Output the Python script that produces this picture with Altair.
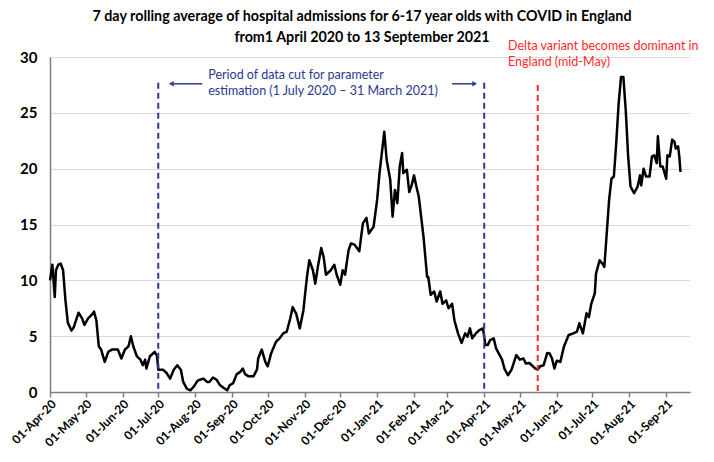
import altair as alt
import pandas as pd

# Days since 1 April 2020 and 7-day rolling average admissions
days = [0, 2, 4, 5, 7, 9, 11, 13, 15, 18, 20, 24, 27, 29, 32, 35, 37, 39, 41, 43,
        46, 49, 52, 55, 57, 60, 63, 66, 68, 70, 73, 76, 78, 80, 81, 84, 88, 90, 91, 95,
        98, 101, 104, 107, 110, 112, 115, 118, 121, 124, 126, 129, 132, 134, 137, 140, 143, 147, 149, 151,
        154, 157, 160, 162, 164, 167, 171, 174, 175, 178, 181, 183, 186, 190, 193, 196, 199, 202, 204, 207,
        210, 213, 216, 218, 221, 223, 225, 228, 230, 232, 236, 239, 241, 244, 246, 248, 251, 253, 256, 260,
        263, 266, 268, 272, 275, 277, 281, 283, 286, 288, 290, 292, 294, 296, 297, 300, 302, 304, 306, 308,
        310, 314, 317, 318, 320, 323, 325, 328, 330, 333, 335, 338, 340, 343, 346, 349, 351, 353, 355, 358,
        361, 364, 366, 368, 370, 373, 375, 380, 382, 385, 388, 392, 395, 398, 400, 403, 408, 410, 412, 415,
        418, 420, 422, 424, 426, 429, 432, 436, 440, 443, 445, 448, 451, 453, 455, 458, 459, 462, 465, 466,
        468, 470, 472, 474, 476, 478, 480, 482, 484, 486, 488, 491, 494, 496, 497, 499, 501, 504, 506, 508,
        510, 511, 513, 515, 518, 519, 521, 523, 525, 526, 528, 529, 530]
admissions = [10.0, 11.4, 8.5, 10.9, 11.4, 11.5, 10.9, 8.2, 6.2, 5.5, 5.8, 7.1, 6.6, 6.0, 6.6, 6.9, 7.2, 6.4, 4.1, 3.8,
              2.7, 3.6, 3.8, 3.8, 3.8, 3.0, 3.8, 4.1, 5.0, 4.1, 3.2, 2.9, 2.4, 2.9, 2.1, 3.2, 3.6, 3.2, 2.0, 2.0,
              1.7, 1.2, 2.0, 2.4, 2.0, 0.9, 0.3, 0.15, 0.5, 1.0, 1.1, 1.2, 0.9, 0.9, 1.3, 1.1, 0.6, 0.3, 0.15, 0.6,
              0.8, 1.6, 1.8, 2.1, 1.6, 1.4, 1.4, 2.0, 3.0, 3.8, 2.7, 2.3, 3.5, 4.5, 4.8, 5.25, 5.4, 6.6, 7.6, 7.0,
              5.7, 7.3, 10.3, 11.8, 10.9, 9.7, 11.1, 12.9, 12.1, 10.5, 10.9, 11.4, 10.5, 9.6, 10.9, 10.5, 12.7, 13.3, 13.2, 12.6,
              15.1, 15.6, 14.2, 14.8, 17.2, 19.6, 23.3, 20.8, 19.0, 15.7, 18.1, 16.9, 20.2, 21.4, 19.6, 19.9, 17.9, 18.5, 19.4, 18.4,
              17.5, 13.9, 10.3, 10.3, 8.7, 9.0, 8.1, 9.0, 7.9, 8.2, 7.5, 7.9, 6.4, 5.25, 4.4, 5.25, 4.95, 5.7, 4.8, 5.25,
              5.55, 5.7, 4.2, 4.2, 4.65, 4.8, 3.9, 2.9, 2.1, 1.5, 2.0, 3.3, 2.9, 3.0, 2.55, 2.6, 2.1, 2.0, 2.3, 2.4,
              3.5, 3.45, 3.0, 2.1, 2.8, 2.7, 4.05, 5.1, 5.25, 5.4, 6.15, 5.25, 7.05, 6.7, 7.9, 8.85, 10.6, 11.8, 11.4, 11.2,
              14.2, 17.2, 19.1, 19.3, 22.3, 25.8, 28.2, 28.2, 25.2, 21.1, 18.4, 17.8, 18.4, 19.4, 18.5, 20.0, 19.3, 19.3, 21.1, 21.2,
              20.5, 22.9, 20.2, 20.2, 19.1, 21.2, 21.1, 22.6, 22.4, 21.8, 22.0, 21.1, 19.7]

tick_dates = ["2020-04-01", "2020-05-01", "2020-06-01", "2020-07-01", "2020-08-01", "2020-09-01",
              "2020-10-01", "2020-11-01", "2020-12-01", "2021-01-01", "2021-02-01", "2021-03-01",
              "2021-04-01", "2021-05-01", "2021-06-01", "2021-07-01", "2021-08-01", "2021-09-01"]
y_ticks = [0, 5, 10, 15, 20, 25, 30]

period_lines = ["2020-07-01", "2021-04-01"]
delta_line = "2021-05-16"

title_lines = ["7 day rolling average of hospital admissions for 6-17 year olds with COVID in England",
               "from1 April 2020 to 13 September 2021"]
period_text = "Period of data cut for parameter\nestimation (1 July 2020 \u2013 31 March 2021)"
delta_text = "Delta variant becomes dominant in\nEngland (mid-May)"

BLUE = "#2b3990"
RED = "#ff2a2a"
FONT = "Lato"

start = pd.Timestamp("2020-04-01")
df = pd.DataFrame({"date": [start + pd.Timedelta(days=d) for d in days], "value": admissions})

def dt(s):
    t = pd.Timestamp(s)
    return alt.DateTime(year=t.year, month=t.month, date=t.day)

x_scale = alt.Scale(domain=[dt("2020-04-01"), dt("2021-09-21")])
y_scale = alt.Scale(domain=[0, 30])

x_axis = alt.Axis(values=[dt(s) for s in tick_dates], format="%d-%b-%y", labelAngle=-45,
                  labelOverlap=False, labelFlush=False, labelBound=False,
                  grid=False, ticks=True, tickSize=5, tickColor="#7f7f7f", tickWidth=1.5,
                  domainColor="#7f7f7f", domainWidth=1.5, labelFont=FONT, labelFontSize=12,
                  labelFontWeight="bold", labelColor="black", labelPadding=1, title=None)
y_axis = alt.Axis(values=y_ticks, grid=True, gridColor="#d9d9d9", gridWidth=1, ticks=False,
                  domainColor="#7f7f7f", domainWidth=1.5, labelFont=FONT, labelFontSize=15,
                  labelFontWeight="bold", labelColor="black", labelPadding=13, title=None)

xa = lambda f: alt.X(f, scale=x_scale, axis=x_axis)
ya = lambda f: alt.Y(f, scale=y_scale, axis=y_axis)

line = alt.Chart(df).mark_line(color="black", strokeWidth=2.5, strokeJoin="round").encode(
    x=xa("date:T"), y=ya("value:Q"))

vdf_blue = pd.DataFrame({"date": pd.to_datetime(period_lines), "top": [27.7, 27.7], "bottom": [0, 0]})
vdf_red = pd.DataFrame({"date": pd.to_datetime([delta_line]), "top": [27.5], "bottom": [0]})

blue_rules = alt.Chart(vdf_blue).mark_rule(color=BLUE, strokeWidth=2, strokeDash=[6, 4]).encode(
    x=xa("date:T"), y=ya("top:Q"), y2="bottom:Q")
red_rules = alt.Chart(vdf_red).mark_rule(color=RED, strokeWidth=2, strokeDash=[6, 4]).encode(
    x=xa("date:T"), y=ya("top:Q"), y2="bottom:Q")

arrow_df = pd.DataFrame({
    "start": pd.to_datetime(["2020-08-07", "2021-03-05"]),
    "end": pd.to_datetime(["2020-07-12", "2021-03-24"]),
    "y": [27.6, 27.6],
    "shape": ["triangle-left", "triangle-right"],
})
arrow_lines = alt.Chart(arrow_df).mark_rule(color=BLUE, strokeWidth=1.5).encode(
    x=xa("start:T"), x2="end:T", y=ya("y:Q"))
arrow_heads = alt.Chart(arrow_df).mark_point(color=BLUE, filled=True, size=30, opacity=1).encode(
    x=xa("end:T"), y=ya("y:Q"), shape=alt.Shape("shape:N", scale=None))

text_df_blue = pd.DataFrame({"date": pd.to_datetime(["2020-08-12"]), "y": [28.95], "t": [period_text]})
text_df_red = pd.DataFrame({"date": pd.to_datetime(["2021-04-21"]), "y": [31.5], "t": [delta_text]})
blue_text = alt.Chart(text_df_blue).mark_text(color=BLUE, font=FONT, fontSize=12.5, align="left",
                                              baseline="top", lineBreak="\n", lineHeight=16).encode(
    x=xa("date:T"), y=ya("y:Q"), text="t:N")
red_text = alt.Chart(text_df_red).mark_text(color=RED, font=FONT, fontSize=12.5, align="left",
                                            baseline="top", lineBreak="\n", lineHeight=16).encode(
    x=xa("date:T"), y=ya("y:Q"), text="t:N")

chart = alt.layer(line, blue_rules, red_rules, arrow_lines, arrow_heads, blue_text, red_text).properties(
    width=640, height=335,
    title=alt.Title(title_lines, font=FONT, fontSize=14.3, fontWeight="bold", color="black",
                    anchor="middle", offset=-5, lineHeight=21, dx=-8),
    autosize=alt.AutoSizeParams(type="none"),
    padding={"left": 42, "top": 49, "right": 16, "bottom": 62},
).configure(background="white").configure_view(stroke=None)

chart.save("out.html", embed_options={"renderer": "svg", "actions": False})
